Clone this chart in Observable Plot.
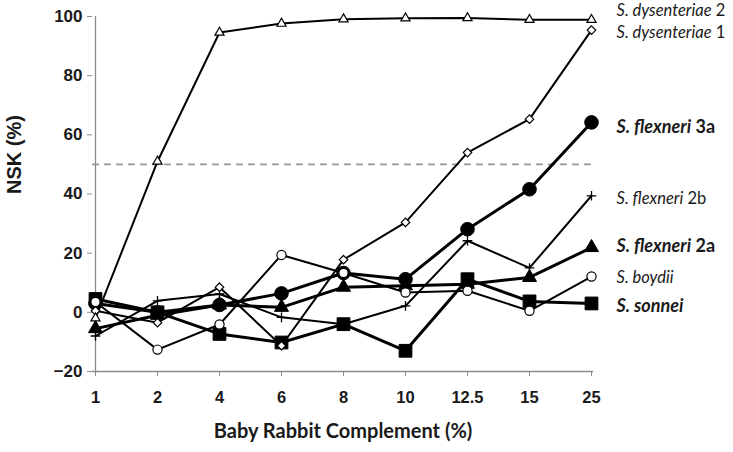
<!DOCTYPE html>
<html>
<head>
<meta charset="utf-8">
<script src="https://cdn.jsdelivr.net/npm/d3@7"></script>
<script src="https://cdn.jsdelivr.net/npm/@observablehq/plot@0.6"></script>
<style>
  body { margin: 0; background: #fff; }
  #chart svg { display: block; }
</style>
</head>
<body>
<div id="chart"></div>
<script>
const complement = ["1", "2", "4", "6", "8", "10", "12.5", "15", "25"];
const yTicks = [-20, 0, 20, 40, 60, 80, 100];
const dysenteriae2 = [-2, 51, 94.6, 97.6, 99.1, 99.4, 99.5, 98.9, 98.9];
const dysenteriae1 = [0.5, -3.5, 8.5, -11.3, 17.8, 30.4, 54.0, 65.3, 95.4];
const flexneri3a = [3, 0, 2.5, 6.4, 13.3, 11.2, 28.1, 41.6, 64.2];
const flexneri2b = [-8, 3.9, 6.2, -1.7, -4, 2.2, 24.2, 15.0, 39.4];
const flexneri2a = [-5.5, -1, 2.5, 1.7, 8.5, 9, 9.5, 11.8, 21.9];
const boydii = [3.5, -12.6, -4.1, 19.4, 13.3, 6.7, 7.3, 0.5, 12.1];
const sonnei = [4.5, 0, -7.3, -10.2, -4, -13, 11.2, 3.7, 3.0];
const threshold = [50];
const seriesNames = ["S. dysenteriae 2", "S. dysenteriae 1", "S. flexneri 3a", "S. flexneri 2b", "S. flexneri 2a", "S. boydii", "S. sonnei"];
const labelValues = [101.9, 94.6, 62.5, 38.3, 22.5, 11.8, 1.9];
const boldNames = ["S. flexneri 3a", "S. flexneri 2a", "S. sonnei"];

const rows = (vals) => complement.map((c, i) => ({c, v: vals[i]}));

// drawing order: bold (filled) series first, then thin (open) series
const series = [
  {vals: sonnei, symbol: "square", fill: "black", r: 7.2, sw: 3},
  {vals: flexneri2a, symbol: "triangle", fill: "black", r: 5.2, sw: 3},
  {vals: flexneri3a, symbol: "circle", fill: "black", r: 6.8, sw: 3},
  {vals: flexneri2b, symbol: "plus", fill: "none", r: 3.2, sw: 2},
  {vals: boydii, symbol: "circle", fill: "white", r: 4.6, sw: 2},
  {vals: dysenteriae1, symbol: "diamond2", fill: "white", r: 3.8, sw: 2},
  {vals: dysenteriae2, symbol: "triangle", fill: "white", r: 3.4, sw: 2}
];

const labels = seriesNames.map((name, i) => ({name, v: labelValues[i], bold: boldNames.includes(name)}));

const marks = [
  Plot.ruleY(threshold, {stroke: "#9a9a9a", strokeWidth: 1.6, strokeDasharray: "7,5"}),
  Plot.ruleX([complement[0]], {stroke: "#8c8c8c", strokeWidth: 1.3}),
  Plot.ruleY([yTicks[0]], {stroke: "#8c8c8c", strokeWidth: 1.3}),
  Plot.axisY({ticks: yTicks, tickSize: 5, tickPadding: 5, stroke: "#8c8c8c", fill: "#1a1a1a",
    fontSize: 17, fontWeight: "bold", fontFamily: "Liberation Sans, Arial, sans-serif", label: null}),
  Plot.axisX({tickSize: 5, tickPadding: 15, stroke: "#8c8c8c", fill: "#1a1a1a",
    fontSize: 16.5, fontWeight: "bold", fontFamily: "Liberation Sans Narrow, Liberation Sans, Arial, sans-serif", label: null}),
];

for (const s of series) {
  marks.push(Plot.line(rows(s.vals), {x: "c", y: "v", stroke: "black", strokeWidth: s.sw, curve: "linear"}));
}
for (const s of series) {
  marks.push(Plot.dot(rows(s.vals), {x: "c", y: "v", symbol: s.symbol, r: s.r,
    fill: s.fill, stroke: "black", strokeWidth: s.symbol === "plus" ? 1.3 : (s.fill === "black" ? 1 : 1.2)}));
}

marks.push(Plot.text(labels.filter(d => !d.bold), {x: () => complement[complement.length - 1], y: "v", text: "name",
  dx: 25, textAnchor: "start", fontSize: 16.5, fontFamily: "Lato, Open Sans, sans-serif", fill: "#1a1a1a", className: "series-label"}));
marks.push(Plot.text(labels.filter(d => d.bold), {x: () => complement[complement.length - 1], y: "v", text: "name",
  dx: 25, textAnchor: "start", fontSize: 18, fontWeight: "bold", fontFamily: "Lato, Open Sans, sans-serif", fill: "#1a1a1a", className: "series-label"}));

marks.push(Plot.text(["NSK (%)"], {frameAnchor: "left", dx: -78, rotate: -90, fontSize: 20, fontWeight: "bold",
  fontFamily: "Liberation Sans, Arial, sans-serif", fill: "#1a1a1a"}));
marks.push(Plot.text(["Baby Rabbit Complement (%)"], {frameAnchor: "bottom", dy: 66, fontSize: 20, fontWeight: "bold",
  fontFamily: "Lato, Open Sans, sans-serif", fill: "#1a1a1a"}));

const chart = Plot.plot({
  width: 733,
  height: 452,
  marginLeft: 92,
  marginRight: 140,
  marginTop: 16,
  marginBottom: 81,
  x: {type: "point", domain: complement, padding: 0},
  y: {domain: [-20, 100]},
  style: {background: "white", overflow: "visible"},
  marks
});

// mixed italic/upright series labels
d3.select(chart).selectAll(".series-label text").each(function () {
  const full = this.textContent;
  const m = full.match(/^(.*?)(\s+\d\w*)$/);
  const el = d3.select(this);
  el.text(null);
  if (m) {
    el.append("tspan").attr("font-style", "italic").text(m[1]);
    el.append("tspan").text(m[2]);
  } else {
    el.append("tspan").attr("font-style", "italic").text(full);
  }
});

document.getElementById("chart").appendChild(chart);
</script>
</body>
</html>
